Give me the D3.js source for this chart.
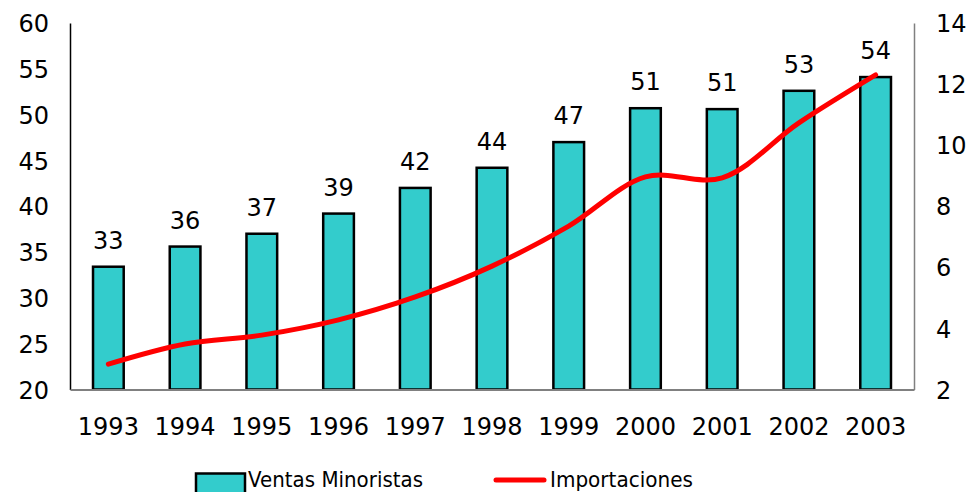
<!DOCTYPE html>
<html>
<head>
<meta charset="utf-8">
<script src="https://cdn.jsdelivr.net/npm/d3@7"></script>
<style>
  html, body { margin: 0; padding: 0; background: #fff; }
  svg text { font-family: "DejaVu Sans", Verdana, sans-serif; fill: #000; }
</style>
</head>
<body>
<svg id="chart" width="969" height="492"></svg>
<script>
// Years on the category axis
const years = ["1993","1994","1995","1996","1997","1998","1999","2000","2001","2002","2003"];
// Retail sales (left axis)
const ventasMinoristas = [33.4, 35.6, 37.0, 39.2, 42.0, 44.2, 47.0, 50.7, 50.6, 52.6, 54.1];
// Imports (right axis)
const importaciones = [2.83, 3.49, 3.78, 4.28, 5.03, 6.04, 7.35, 8.96, 8.93, 10.73, 12.3];
// Axis ticks
const leftTicks = [20, 25, 30, 35, 40, 45, 50, 55, 60];
const rightTicks = [2, 4, 6, 8, 10, 12, 14];

const svg = d3.select("#chart");
const m = { left: 70, right: 914, top: 23, bottom: 389.5 };

const x = d3.scaleBand().domain(years).range([m.left, m.right]).paddingInner(0.6).paddingOuter(0.3);
const yL = d3.scaleLinear().domain([20, 60]).range([m.bottom, m.top]);
const yR = d3.scaleLinear().domain([2, 14]).range([m.bottom, m.top]);

const fontSize = 24;

// Bars
svg.append("g").selectAll("rect").data(years).join("rect")
  .attr("x", d => x(d))
  .attr("width", x.bandwidth())
  .attr("y", (d, i) => yL(ventasMinoristas[i]))
  .attr("height", (d, i) => yL(20) - yL(ventasMinoristas[i]))
  .attr("fill", "#33CCCC")
  .attr("stroke", "#000")
  .attr("stroke-width", 2.5);

// Value labels above bars
svg.append("g").selectAll("text").data(years).join("text")
  .attr("x", d => x(d) + x.bandwidth() / 2)
  .attr("y", (d, i) => yL(ventasMinoristas[i]) - 18)
  .attr("text-anchor", "middle")
  .style("font-size", fontSize + "px")
  .text((d, i) => d3.format(".0f")(ventasMinoristas[i]));

// Left axis
const axL = svg.append("g").attr("transform", `translate(${m.left},0)`)
  .call(d3.axisLeft(yL).tickValues(leftTicks).tickSize(0).tickPadding(21));
axL.select(".domain").attr("stroke", "#000").attr("stroke-width", 1.5);
axL.selectAll("text").style("font-size", fontSize + "px").attr("dy", "0.36em");

// Right axis
const axR = svg.append("g").attr("transform", `translate(${m.right},0)`)
  .call(d3.axisRight(yR).tickValues(rightTicks).tickSize(0).tickPadding(22));
axR.select(".domain").attr("stroke", "#808080").attr("stroke-width", 1.5);
axR.selectAll("text").style("font-size", fontSize + "px").attr("dy", "0.36em");

// Bottom axis
const axB = svg.append("g").attr("transform", `translate(0,${m.bottom})`)
  .call(d3.axisBottom(x).tickSize(0).tickPadding(28));
axB.select(".domain").attr("stroke", "#808080").attr("stroke-width", 2);
axB.selectAll("text").style("font-size", fontSize + "px");

// Imports line
const line = d3.line()
  .x((d, i) => x(years[i]) + x.bandwidth() / 2)
  .y(d => yR(d))
  .curve(d3.curveCatmullRom.alpha(0.5));
svg.append("path")
  .datum(importaciones)
  .attr("d", line)
  .attr("fill", "none")
  .attr("stroke", "#FF0000")
  .attr("stroke-width", 5)
  .attr("stroke-linecap", "round");

// Legend (condensed text)
const lg = svg.append("g");
lg.append("rect").attr("x", 196).attr("y", 473.5).attr("width", 49).attr("height", 20)
  .attr("fill", "#33CCCC").attr("stroke", "#000").attr("stroke-width", 2.5);
lg.append("text").attr("x", 248).attr("y", 486.5).style("font-size", "22px")
  .attr("textLength", 175).attr("lengthAdjust", "spacingAndGlyphs").text("Ventas Minoristas");
lg.append("line").attr("x1", 496).attr("x2", 544).attr("y1", 480).attr("y2", 480)
  .attr("stroke", "#FF0000").attr("stroke-width", 5).attr("stroke-linecap", "round");
lg.append("text").attr("x", 550).attr("y", 486.5).style("font-size", "22px")
  .attr("textLength", 143).attr("lengthAdjust", "spacingAndGlyphs").text("Importaciones");
</script>
</body>
</html>
